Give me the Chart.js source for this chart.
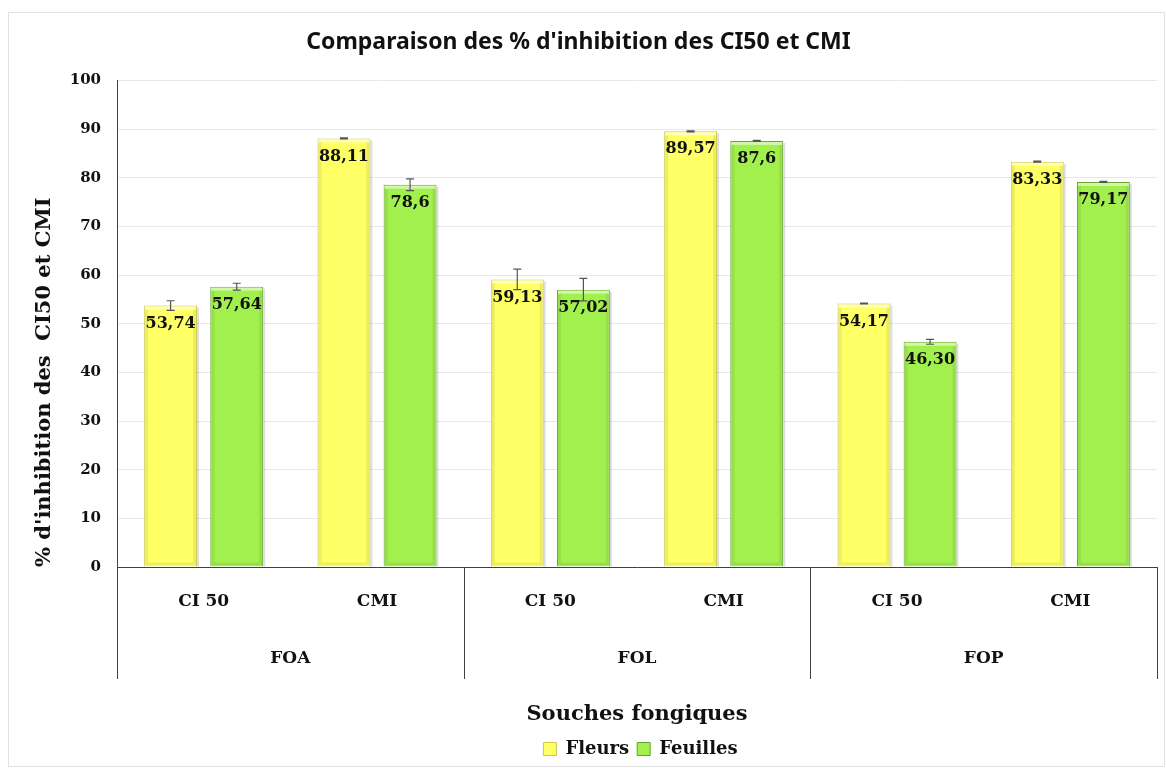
<!DOCTYPE html>
<html>
<head>
<meta charset="utf-8">
<script src="https://cdn.jsdelivr.net/npm/chart.js@4"></script>
<style>
  html, body { margin: 0; padding: 0; background: #fff; }
  #wrap { width: 1166px; height: 768px; position: relative; }
</style>
</head>
<body>
<div id="wrap"><canvas id="chart" width="1166" height="768"></canvas></div>
<script>
// data
var categories = ['CI 50', 'CMI', 'CI 50', 'CMI', 'CI 50', 'CMI'];
var groups = ['FOA', 'FOL', 'FOP'];
var fleurs = [53.74, 88.11, 59.13, 89.57, 54.17, 83.33];
var feuilles = [57.64, 78.6, 57.02, 87.6, 46.30, 79.17];
var fleursErr = [1.0, 0.1, 2.1, 0.1, 0.1, 0.1];
var feuillesErr = [0.7, 1.2, 2.3, 0.1, 0.5, 0.1];
var fleursText = ['53,74', '88,11', '59,13', '89,57', '54,17', '83,33'];
var feuillesText = ['57,64', '78,6', '57,02', '87,6', '46,30', '79,17'];
var yTicks = [0, 10, 20, 30, 40, 50, 60, 70, 80, 90, 100];

var serif = '"DejaVu Serif", serif';

// frame round the whole chart, legend nudged under the plot centre
var framePlugin = {
    id: 'frame',
    beforeDraw: function (chart) {
        var ctx = chart.ctx;
        ctx.save();
        ctx.strokeStyle = '#e2e2e2';
        ctx.lineWidth = 1;
        ctx.strokeRect(8.5, 12.5, chart.width - 10, chart.height - 14);
        ctx.restore();
        if (chart.legend && !chart.legend._shifted) {
            chart.legend.left += 62;
            chart.legend.right += 62;
            chart.legend._shifted = true;
        }
    }
};

// bevel look, error bars + value labels
var barExtras = {
    id: 'barExtras',
    afterDatasetsDraw: function (chart) {
        var ctx = chart.ctx;
        var y = chart.scales.y;
        var errs = [fleursErr, feuillesErr];
        var texts = [fleursText, feuillesText];
        ctx.save();
        chart.data.datasets.forEach(function (ds, di) {
            var meta = chart.getDatasetMeta(di);
            meta.data.forEach(function (bar) {
                var l = bar.x - bar.width / 2;
                var h = bar.base - bar.y;
                ctx.fillStyle = 'rgba(0,0,0,0.13)';
                ctx.fillRect(l + bar.width, bar.y + 2, 2, h - 2);
                ctx.fillStyle = 'rgba(255,255,255,0.5)';
                ctx.fillRect(l + 1, bar.y + 1, bar.width - 2, 3);
                ctx.fillStyle = 'rgba(0,0,0,0.07)';
                ctx.fillRect(l + 1, bar.y + 4, 3, h - 5);
                ctx.fillRect(l + bar.width - 4, bar.y + 4, 3, h - 5);
                ctx.fillRect(l + 4, bar.base - 4, bar.width - 8, 3);
            });
        });
        chart.data.datasets.forEach(function (ds, di) {
            var meta = chart.getDatasetMeta(di);
            meta.data.forEach(function (bar, i) {
                var v = ds.data[i];
                var top = y.getPixelForValue(v + errs[di][i]);
                var bot = y.getPixelForValue(v - errs[di][i]);
                ctx.strokeStyle = '#555';
                ctx.lineWidth = 1.2;
                ctx.beginPath();
                ctx.moveTo(bar.x, top);
                ctx.lineTo(bar.x, bot);
                ctx.moveTo(bar.x - 4, top);
                ctx.lineTo(bar.x + 4, top);
                ctx.moveTo(bar.x - 4, bot);
                ctx.lineTo(bar.x + 4, bot);
                ctx.stroke();
            });
        });
        chart.data.datasets.forEach(function (ds, di) {
            var meta = chart.getDatasetMeta(di);
            meta.data.forEach(function (bar, i) {
                ctx.fillStyle = '#111';
                ctx.font = 'bold 16px ' + serif;
                ctx.textAlign = 'center';
                ctx.textBaseline = 'middle';
                ctx.fillText(texts[di][i], bar.x, bar.y + 18);
            });
        });
        ctx.restore();
    }
};

// group labels and separators under the x axis
var groupAxis = {
    id: 'groupAxis',
    afterDraw: function (chart) {
        var ctx = chart.ctx;
        var x = chart.scales.x;
        var area = chart.chartArea;
        var per = categories.length / groups.length;
        var step = (area.right - area.left) / groups.length;
        ctx.save();
        ctx.strokeStyle = '#404040';
        ctx.lineWidth = 1;
        for (var g = 0; g <= groups.length; g++) {
            var gx = Math.round(area.left + g * step) + 0.5;
            ctx.beginPath();
            ctx.moveTo(gx, area.bottom);
            ctx.lineTo(gx, area.bottom + 112);
            ctx.stroke();
        }
        ctx.fillStyle = '#111';
        ctx.font = 'bold 17px ' + serif;
        ctx.textAlign = 'center';
        ctx.textBaseline = 'middle';
        groups.forEach(function (name, g) {
            var cx = (x.getPixelForValue(g * per) + x.getPixelForValue(g * per + per - 1)) / 2;
            ctx.fillText(name, cx, area.bottom + 92);
        });
        ctx.restore();
    }
};

var ctx = document.getElementById('chart').getContext('2d');

new Chart(ctx, {
    type: 'bar',
    data: {
        labels: categories,
        datasets: [{
            label: 'Fleurs',
            data: fleurs,
            backgroundColor: '#ffff66',
            borderColor: '#c9c94a',
            borderWidth: 1,
            categoryPercentage: 0.763,
            barPercentage: 0.8
        }, {
            label: 'Feuilles',
            data: feuilles,
            backgroundColor: '#a2f04e',
            borderColor: '#62a326',
            borderWidth: 1,
            categoryPercentage: 0.763,
            barPercentage: 0.8
        }]
    },
    options: {
        responsive: false,
        animation: false,
        layout: {
            padding: { left: 0, right: 9, top: 0, bottom: 0 }
        },
        plugins: {
            title: {
                display: true,
                text: "Comparaison des % d'inhibition des CI50 et CMI",
                color: '#111',
                font: { family: '"Noto Sans", sans-serif', size: 23, weight: 'bold', lineHeight: 1.2 },
                padding: { top: 29, bottom: 24 }
            },
            legend: {
                position: 'bottom',
                labels: {
                    color: '#111',
                    font: { family: serif, size: 18, weight: 'bold' },
                    boxWidth: 13,
                    boxHeight: 13,
                    padding: 8
                }
            },
            tooltip: { enabled: false }
        },
        scales: {
            x: {
                grid: { display: false },
                border: { display: true, color: '#404040', width: 1 },
                ticks: {
                    color: '#111',
                    padding: 16,
                    font: { family: serif, size: 17, weight: 'bold' }
                },
                title: {
                    display: true,
                    text: 'Souches fongiques',
                    color: '#111',
                    font: { family: serif, size: 21, weight: 'bold' },
                    padding: { top: 0, bottom: 5 }
                },
                afterFit: function (scale) {
                    scale.height = 165;
                }
            },
            y: {
                min: 0,
                max: 100,
                afterBuildTicks: function (scale) {
                    scale.ticks = yTicks.map(function (v) { return { value: v }; });
                },
                grid: { color: '#e8e8e8', drawTicks: false },
                border: { display: true, color: '#404040', width: 1 },
                ticks: {
                    color: '#111',
                    padding: 16,
                    font: { family: serif, size: 15, weight: 'bold' }
                },
                title: {
                    display: true,
                    text: "% d'inhibition des  CI50 et CMI",
                    align: 'start',
                    color: '#111',
                    font: { family: serif, size: 21, weight: 'bold' },
                    padding: { top: 32, bottom: 0 }
                },
                afterFit: function (scale) {
                    scale.width = 117;
                }
            }
        }
    },
    plugins: [framePlugin, barExtras, groupAxis]
});
</script>
</body>
</html>
